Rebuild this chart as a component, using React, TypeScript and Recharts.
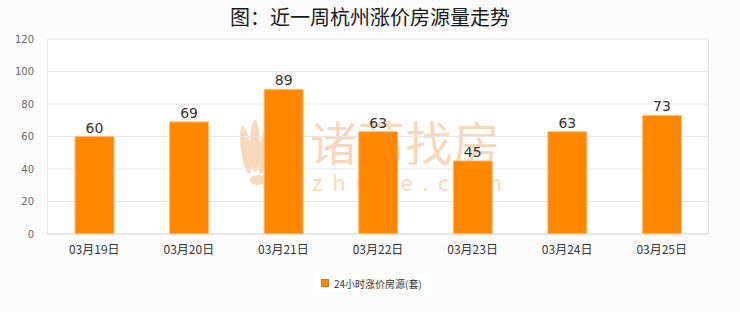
import { BarChart, Bar, XAxis, YAxis, CartesianGrid, LabelList } from 'recharts';

const days = ['03月19日', '03月20日', '03月21日', '03月22日', '03月23日', '03月24日', '03月25日'];
const risingListings = [60, 69, 89, 63, 45, 63, 73];
const yTicks = [0, 20, 40, 60, 80, 100, 120];

const seriesName = '24小时涨价房源(套)';
const cjk = '"Noto Sans CJK SC", "Noto Sans", sans-serif';

export default function App() {
  const data = days.map((d, i) => ({ day: d, value: risingListings[i] }));

  return (
    <div style={{ position: 'absolute', left: 0, top: 0, width: 740, height: 312, background: '#fcfcfc', fontFamily: cjk }}>
      <div style={{ position: 'absolute', left: 0, top: 2, width: 740, textAlign: 'center', fontSize: 20, fontWeight: 400, color: '#1a1a1a' }}>
        图：近一周杭州涨价房源量走势
      </div>
      {/* plot background */}
      <div style={{ position: 'absolute', left: 47, top: 39, width: 662, height: 195, background: '#fff', borderRight: '1px solid #e6e6e6', borderLeft: '1px solid #e6e6e6', boxSizing: 'border-box' }} />
      {/* watermark */}
      <svg style={{ position: 'absolute', left: 0, top: 0 }} width={740} height={312}>
        <g fill="#f8d8bc">
          <ellipse cx={246} cy={150} rx={5} ry={24} transform="rotate(-8 246 150)" />
          <ellipse cx={255} cy={146} rx={5} ry={26} />
          <ellipse cx={264} cy={150} rx={5} ry={24} transform="rotate(8 264 150)" />
          <ellipse cx={258} cy={180} rx={8} ry={5} />
        </g>
        <text x={310} y={161} fontSize={47} fill="#f8d8bc" fontFamily={cjk} textLength={190}>诸葛找房</text>
        <text x={312} y={191} fontSize={22} fill="#f8d8bc" fontFamily={cjk} textLength={190} lengthAdjust="spacing">zhuge.com</text>
      </svg>
      <div style={{ position: 'absolute', left: 0, top: 0 }}>
        <BarChart width={740} height={312} data={data} margin={{ top: 39, right: 31, bottom: 48, left: 0 }}>
          <CartesianGrid vertical={false} stroke="#e6e6e6" />
          <XAxis
            dataKey="day"
            height={30}
            tickLine={false}
            axisLine={{ stroke: '#dcdcdc' }}
            tickMargin={5}
            tick={{ fontSize: 12, fill: '#333', fontFamily: cjk }}
          />
          <YAxis
            width={47}
            domain={[0, 120]}
            ticks={yTicks}
            tickLine={false}
            axisLine={false}
            tickMargin={7}
            tick={{ fontSize: 10, fill: '#666', fontFamily: '"DejaVu Sans", sans-serif' }}
          />
          <Bar dataKey="value" name={seriesName} fill="#ff8800" stroke="#ffbb77" strokeWidth={1} barSize={39} isAnimationActive={false}>
            <LabelList dataKey="value" position="top" offset={4} style={{ fontSize: 14, fill: '#333', fontFamily: '"DejaVu Sans", sans-serif' }} />
          </Bar>
        </BarChart>
      </div>
      {/* legend */}
      <div style={{ position: 'absolute', left: 315, top: 274, width: 110, height: 18, background: '#fff', display: 'flex', alignItems: 'center' }}>
        <span style={{ display: 'inline-block', width: 8, height: 8, background: '#ff8800', border: '1px solid #cc7722', boxSizing: 'border-box', marginLeft: 6, marginRight: 5 }} />
        <span style={{ fontSize: 10, color: '#333', whiteSpace: 'nowrap' }}>{seriesName}</span>
      </div>
    </div>
  );
}
